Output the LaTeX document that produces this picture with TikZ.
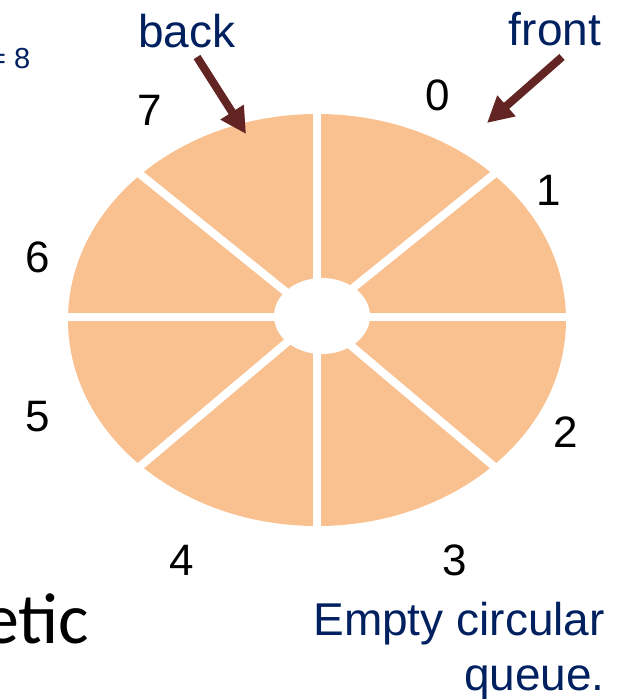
\documentclass[tikz,border=0pt]{standalone}
\usepackage{fontspec}
\setmainfont{Liberation Sans}
\newfontfamily\calibfont{Carlito}
\usetikzlibrary{arrows.meta}
\definecolor{navy}{HTML}{002060}
\definecolor{wedgefill}{HTML}{F9C190}
\definecolor{arrowred}{HTML}{632523}
\begin{document}
\begin{tikzpicture}[x=1pt,y=-1pt,
  idx/.style={font=\fontsize{44}{50}\selectfont, inner sep=0pt},
  lbl/.style={font=\fontsize{46}{54}\selectfont, text=navy, inner sep=0pt},
  ptr/.style={draw=arrowred, line width=8pt, -{Triangle[length=26pt,width=26pt]}},
  gap/.style={draw=white, line width=8pt}]
\useasboundingbox (0,0) rectangle (620,699);
\clip (0,0) rectangle (620,699);
% pie
\fill[wedgefill] (317,320) ellipse [x radius=249pt, y radius=206pt];
\coordinate (c) at (317,317);
\draw[gap] (317,100) -- (317,540);
\draw[gap] (50,317) -- (590,317);
\draw[gap] (c) -- (125,162);
\draw[gap] (c) -- (509,162);
\draw[gap] (c) -- (125,479);
\draw[gap] (c) -- (509,479);
\fill[white] (322,316) ellipse [x radius=48pt, y radius=38pt];
% index labels
\node[idx] (n0) at (438,95) {0};
\node[idx] (n1) at (549,190) {1};
\node[idx] (n2) at (566,432) {2};
\node[idx] (n3) at (455,560) {3};
\node[idx] (n4) at (182,560) {4};
\node[idx] (n5) at (38,417) {5};
\node[idx] (n6) at (38,257) {6};
\node[idx] (n7) at (150,110) {7};
% pointers
\node[lbl, anchor=base] (back) at (187,47) {back};
\node[lbl, anchor=base] (front) at (555,45) {front};
\coordinate (backtail) at (197,57);
\coordinate (backtip) at (246,134);
\coordinate (fronttail) at (562,57);
\coordinate (fronttip) at (487,123);
\draw[ptr] (backtail) -- (backtip);
\draw[ptr] (fronttail) -- (fronttip);
% captions
\node[lbl, anchor=base east] (cap1) at (605,635) {Empty circular};
\node[lbl, anchor=base east] (cap2) at (605,690) {queue.};
\node[font=\fontsize{29}{34}\selectfont, text=navy, anchor=base west, inner sep=0pt] (size) at (-11,68) {= 8};
\node[font=\calibfont\fontsize{72}{80}\selectfont, anchor=base west, inner sep=0pt] (etic) at (-17,643) {etic};
\end{tikzpicture}
\end{document}
